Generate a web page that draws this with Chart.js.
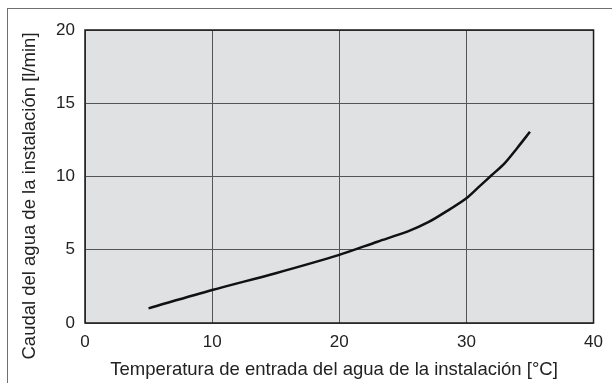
<!DOCTYPE html>
<html>
<head>
<meta charset="utf-8">
<script src="https://cdn.jsdelivr.net/npm/chart.js@4.4.1/dist/chart.umd.min.js"></script>
<style>
  html, body { margin: 0; padding: 0; background: #fff; }
  #wrap { width: 612px; height: 383px; position: relative; }
</style>
</head>
<body>
<div id="wrap"><canvas id="myChart"></canvas></div>
<script>
// curve
const temperatura = [5, 10, 15, 20, 23, 25.4, 27, 28.3, 30, 31, 32, 33, 34, 35];
const caudal = [1.0, 2.25, 3.4, 4.65, 5.55, 6.25, 6.88, 7.55, 8.52, 9.31, 10.1, 10.9, 11.95, 13.05];

const xTicks = [0, 10, 20, 30, 40];
const yTicks = [0, 5, 10, 15, 20];

const xTitle = "Temperatura de entrada del agua de la instalación [°C]";
const yTitle = "Caudal del agua de la instalación [l/min]";

const font = "Liberation Sans";

// grey plot background, outer frame and the two axis titles
const frame = {
  id: "frame",
  beforeDraw(chart) {
    const c = chart.ctx;
    const a = chart.chartArea;
    c.save();
    c.strokeStyle = "#707070";
    c.lineWidth = 1;
    c.strokeRect(7.5, 8.5, 640, 400);
    c.fillStyle = "#e0e1e3";
    c.fillRect(a.left, a.top, a.right - a.left, a.bottom - a.top);
    c.restore();
  },
  afterDatasetsDraw(chart) {
    const a = chart.chartArea;
    const c = chart.ctx;
    c.save();
    c.strokeStyle = "#1a1a1a";
    c.lineWidth = 1.5;
    c.strokeRect(a.left, a.top, a.right - a.left, a.bottom - a.top);

    c.fillStyle = "#222";
    c.font = "18.5px '" + font + "'";
    c.textAlign = "center";
    c.textBaseline = "middle";
    c.fillText(xTitle, 334, 370);
    c.translate(30, 196);
    c.rotate(-Math.PI / 2);
    c.fillText(yTitle, 0, 0);
    c.restore();
  },
};

const ctx = document.getElementById("myChart");
const myChart = new Chart(ctx, {
  type: "line",
  data: {
    datasets: [
      {
        data: temperatura.map((t, i) => ({ x: t, y: caudal[i] })),
        borderColor: "#111",
        borderWidth: 2.5,
        pointRadius: 0,
        tension: 0.3,
        fill: false,
      },
    ],
  },
  options: {
    responsive: true,
    maintainAspectRatio: false,
    animation: false,
    layout: { padding: { left: 0, right: 15, top: 30, bottom: 0 } },
    plugins: { legend: { display: false }, tooltip: { enabled: false } },
    scales: {
      x: {
        type: "linear",
        min: 0,
        max: 40,
        afterBuildTicks: (s) => { s.ticks = xTicks.map((v) => ({ value: v })); },
        afterFit: (s) => { s.height = 60; },
        grid: { color: "#555", lineWidth: 1, drawTicks: false },
        border: { display: false },
        ticks: { padding: 9, color: "#222", font: { family: font, size: 17 } },
      },
      y: {
        min: 0,
        max: 20,
        afterBuildTicks: (s) => { s.ticks = yTicks.map((v) => ({ value: v })); },
        afterFit: (s) => { s.width = 85; },
        grid: { color: "#555", lineWidth: 1, drawTicks: false },
        border: { display: false },
        ticks: { padding: 10, color: "#222", font: { family: font, size: 17 } },
      },
    },
  },
  plugins: [frame],
});
</script>
</body>
</html>
